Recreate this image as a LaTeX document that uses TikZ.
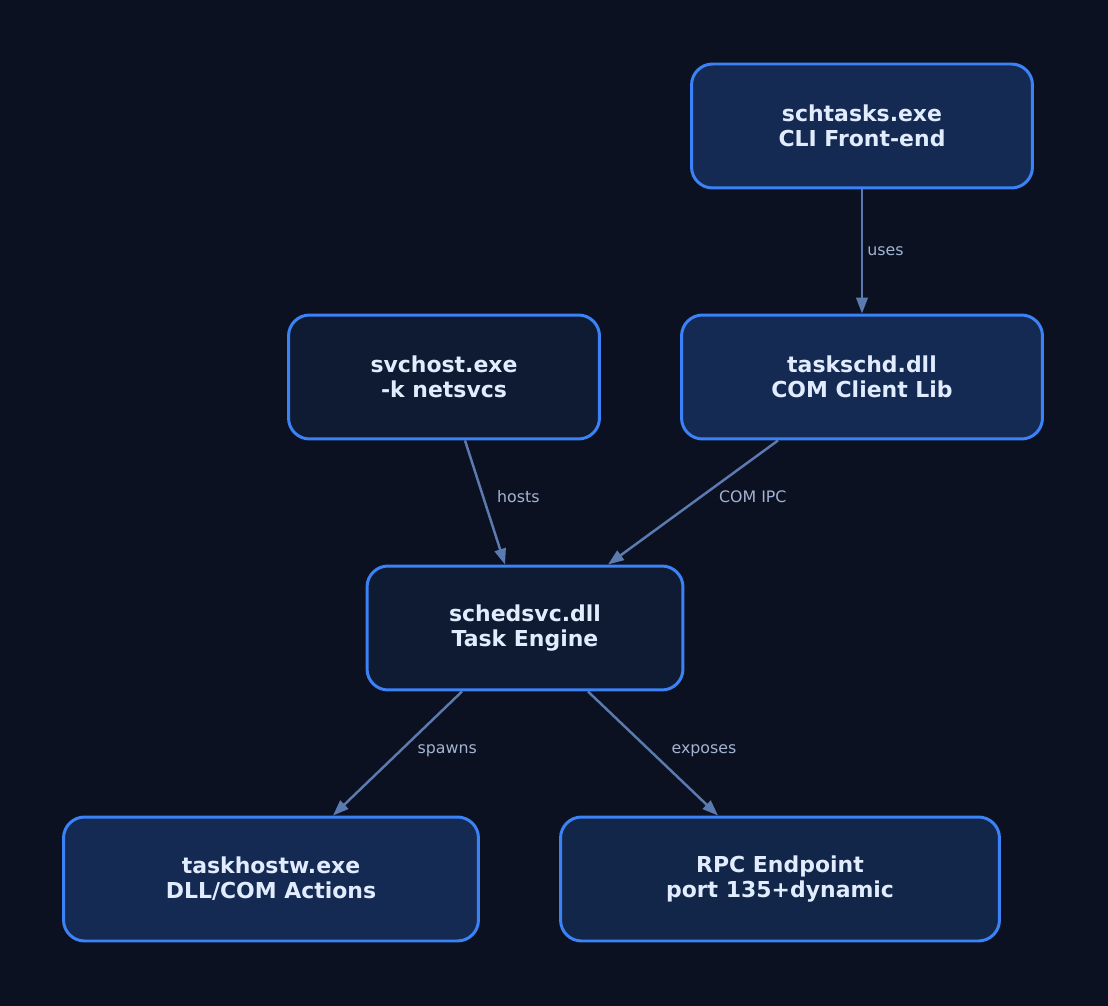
\documentclass[tikz,border=0pt]{standalone}
\usepackage{fontspec}
\setmainfont{DejaVu Sans}
\usetikzlibrary{arrows.meta,calc}
\definecolor{bgc}{HTML}{0B1120}
\definecolor{rim}{HTML}{3B82F6}
\definecolor{fillA}{HTML}{152A52}
\definecolor{fillB}{HTML}{0F1A33}
\definecolor{fillC}{HTML}{12264A}
\definecolor{txt}{HTML}{E2ECFF}
\definecolor{wire}{HTML}{5B7BB0}
\definecolor{lbl}{HTML}{A3B3D3}
\tikzset{
  box/.style={draw=rim,line width=1.7pt,rounded corners=0.42cm,minimum height=2.48cm,
    text=txt,font=\fontsize{12.5}{14.4}\selectfont\bfseries,align=center,inner sep=0pt},
  link/.style={draw=wire,line width=1.4pt,-{Triangle[length=9pt,width=6.5pt]}},
  tag/.style={text=lbl,font=\fontsize{9}{11}\selectfont}
}
\begin{document}
\begin{tikzpicture}[x=0.02cm,y=-0.02cm]
		%
		\fill[bgc] (0,0) rectangle (1108,1006);
		\useasboundingbox (0,0) rectangle (1108,1006);
		%
		\node[box,fill=fillA,minimum width=6.82cm] (cli) at (862,126) {schtasks.exe\\CLI Front-end};
		\node[box,fill=fillA,minimum width=7.22cm] (lib) at (862,377) {taskschd.dll\\COM Client Lib};
		\node[box,fill=fillB,minimum width=6.22cm] (host) at (444,377) {svchost.exe\\-k netsvcs};
		\node[box,fill=fillB,minimum width=6.32cm] (eng) at (525,628) {schedsvc.dll\\Task Engine};
		\node[box,fill=fillA,minimum width=8.30cm] (act) at (271,879) {taskhostw.exe\\DLL/COM Actions};
		\node[box,fill=fillC,minimum width=8.78cm] (rpc) at (780,879) {RPC Endpoint\\port 135+dynamic};
		%
		\draw[link] (cli.south) -- (lib.north) node[tag,midway,right=-1pt] {uses};
		\draw[link] ($(host.south)+(21,0)$) -- ($(eng.north)+(-20,0)$)
		  node[tag,pos=0.45,right=4pt] {hosts};
		\draw[link] ($(lib.south)+(-84,0)$) -- ($(eng.north)+(83,0)$)
		  node[tag,pos=0.45,right=6pt] {COM IPC};
		\draw[link] ($(eng.south)+(-63,0)$) -- ($(act.north)+(62,0)$)
		  node[tag,pos=0.48,right=6pt] {spawns};
		\draw[link] ($(eng.south)+(63,0)$) -- ($(rpc.north)+(-62,0)$)
		  node[tag,pos=0.48,right=8pt] {exposes};
\end{tikzpicture}
\end{document}
